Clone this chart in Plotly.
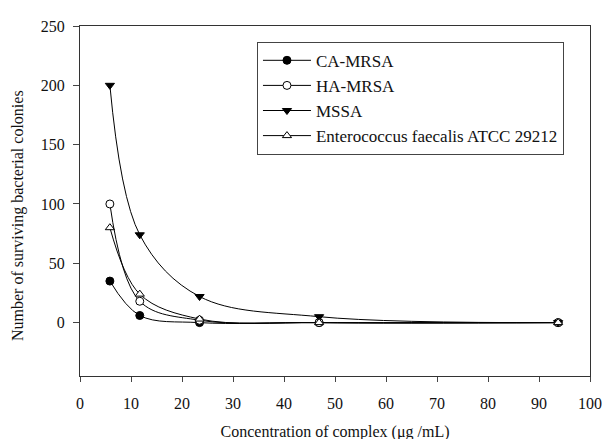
import plotly.graph_objects as go

conc = [5.86, 11.72, 23.44, 46.88, 93.75]
ca_mrsa = [35, 6, 0, 0, 0]
ha_mrsa = [100, 18, 2, 0, 0]
mssa = [200, 74, 22, 5, 0]
entero = [80, 24, 3, 0, 0]

names = ["CA-MRSA", "HA-MRSA", "MSSA", "Enterococcus faecalis ATCC 29212"]
series = [ca_mrsa, ha_mrsa, mssa, entero]
symbols = ["circle", "circle", "triangle-down", "triangle-up"]
fills = ["black", "white", "black", "white"]

fig = go.Figure()
for n, s, sym, fc in zip(names, series, symbols, fills):
    fig.add_trace(go.Scatter(
        x=conc, y=s, name=n, mode="lines+markers",
        line=dict(color="black", width=1, shape="spline", smoothing=1.0),
        marker=dict(symbol=sym, size=8, color=fc, line=dict(color="black", width=1)),
    ))

fam = "Liberation Serif, Times New Roman, serif"
tf = dict(family=fam, size=16, color="#111")
fig.update_layout(
    width=610, height=439,
    margin=dict(l=72, r=28, t=10, b=70),
    paper_bgcolor="white", plot_bgcolor="white",
    font=tf,
    showlegend=True,
    legend=dict(x=0.347, y=0.955, xanchor="left", yanchor="top",
                bordercolor="#444", borderwidth=1, bgcolor="white",
                font=dict(family=fam, size=17, color="#111"),
                tracegroupgap=0, itemwidth=48),
    annotations=[dict(text="Number of surviving bacterial colonies", textangle=-90,
                      xref="paper", yref="paper", x=-0.1216, y=0.46,
                      xanchor="center", yanchor="middle", showarrow=False,
                      font=dict(family=fam, size=16, color="#111"))],
)
fig.update_xaxes(range=[0, 100], tick0=0, dtick=10, ticks="outside", ticklen=5,
                 tickfont=tf, ticklabelstandoff=8,
                 showline=True, linecolor="#333", linewidth=1, mirror=True,
                 showgrid=False, zeroline=False,
                 title=dict(text="Concentration of complex (μg /mL)", standoff=14,
                            font=dict(family=fam, size=16, color="#111")))
fig.update_yaxes(range=[-45, 250], tickvals=[0, 50, 100, 150, 200, 250], ticks="outside", ticklen=6,
                 tickfont=tf, ticklabelstandoff=5,
                 showline=True, linecolor="#333", linewidth=1, mirror=True,
                 showgrid=False, zeroline=False)
fig.write_html("out.html")
